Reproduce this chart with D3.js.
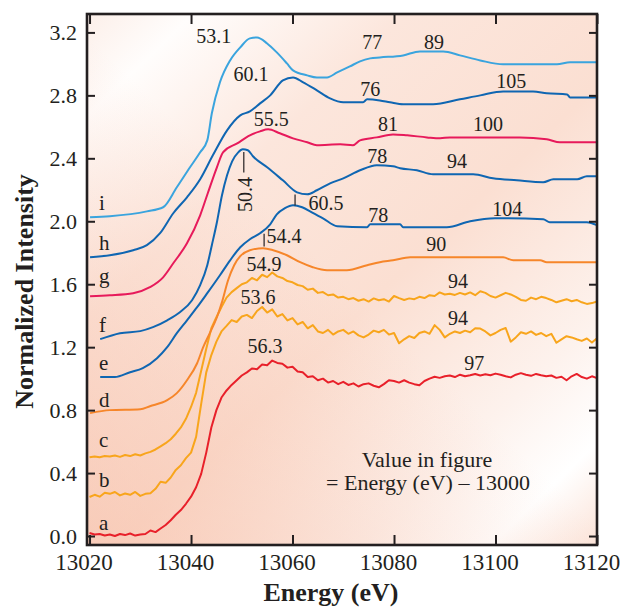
<!DOCTYPE html>
<html>
<head>
<meta charset="utf-8">
<script src="https://cdn.jsdelivr.net/npm/d3@7"></script>
<style>
  body { margin: 0; background: #fff; }
  text { font-family: "Liberation Serif", "Times New Roman", serif; fill: #231f20; }
</style>
</head>
<body>
<div id="chart"></div>
<script>
// energies (eV) for the noisy spectra a, b, c, read every 1 eV
const gridE = d3.range(13020, 13121);

const aI = [
  0.019, 0.010, 0.013, 0.003, 0.010, 0.000, 0.013, 0.006, 0.016, 0.003,
  0.010, 0.013, 0.035, 0.025, 0.048, 0.070, 0.100, 0.135, 0.165, 0.205,
  0.250, 0.310, 0.395, 0.530, 0.690, 0.800, 0.880, 0.925, 0.960, 0.990,
  1.020, 1.040, 1.065, 1.060, 1.090, 1.085, 1.115, 1.100, 1.095, 1.070,
  1.075, 1.045, 1.040, 1.010, 1.015, 0.990, 1.000, 0.975, 0.985, 0.965,
  0.980, 0.960, 0.970, 0.950, 0.965, 0.970, 0.955, 0.945, 0.965, 0.990,
  0.985, 0.975, 0.990, 0.975, 0.965, 0.958, 0.985, 1.000, 1.012, 1.005,
  1.015, 1.020, 1.010, 1.025, 1.015, 1.022, 1.030, 1.020, 1.028, 1.022,
  1.032, 1.025, 1.015, 1.008, 1.025, 1.035, 1.025, 1.018, 1.030, 1.022,
  1.015, 1.020, 1.005, 1.012, 0.990, 1.015, 1.030, 1.010, 1.000, 1.015,
  1.003];

const bI = [
  0.248, 0.262, 0.250, 0.275, 0.268, 0.280, 0.258, 0.270, 0.262, 0.280,
  0.255, 0.268, 0.272, 0.300, 0.345, 0.338, 0.372, 0.420, 0.450, 0.495,
  0.530, 0.630, 0.840, 1.040, 1.150, 1.235, 1.300, 1.335, 1.372, 1.360,
  1.395, 1.405, 1.385, 1.430, 1.455, 1.420, 1.440, 1.395, 1.410, 1.370,
  1.385, 1.345, 1.360, 1.320, 1.340, 1.300, 1.290, 1.310, 1.280, 1.300,
  1.310, 1.285, 1.300, 1.275, 1.262, 1.280, 1.305, 1.295, 1.310, 1.280,
  1.290, 1.225, 1.250, 1.270, 1.258, 1.290, 1.300, 1.285, 1.340, 1.310,
  1.262, 1.285, 1.300, 1.290, 1.305, 1.295, 1.320, 1.318, 1.300, 1.275,
  1.290, 1.310, 1.322, 1.235, 1.262, 1.295, 1.285, 1.300, 1.278, 1.290,
  1.270, 1.285, 1.228, 1.250, 1.270, 1.262, 1.250, 1.240, 1.255, 1.230,
  1.257];

const cI = [
  0.500, 0.505, 0.500, 0.508, 0.505, 0.512, 0.503, 0.515, 0.508, 0.520,
  0.512, 0.525, 0.535, 0.550, 0.570, 0.590, 0.615, 0.650, 0.690, 0.745,
  0.820, 0.910, 1.050, 1.190, 1.320, 1.390, 1.455, 1.515, 1.550, 1.575,
  1.600, 1.612, 1.640, 1.625, 1.660, 1.645, 1.675, 1.650, 1.640, 1.620,
  1.612, 1.595, 1.588, 1.565, 1.572, 1.545, 1.550, 1.530, 1.535, 1.515,
  1.520, 1.505, 1.512, 1.495, 1.505, 1.490, 1.510, 1.498, 1.505, 1.490,
  1.525, 1.512, 1.500, 1.510, 1.505, 1.520, 1.512, 1.530, 1.525, 1.548,
  1.535, 1.540, 1.532, 1.545, 1.535, 1.548, 1.530, 1.555, 1.545, 1.525,
  1.515, 1.530, 1.545, 1.535, 1.520, 1.500, 1.495, 1.515, 1.505, 1.520,
  1.512, 1.500, 1.485, 1.495, 1.505, 1.492, 1.500, 1.485, 1.475, 1.480,
  1.490];

// smoother spectra d..i as [energy, intensity]
const dPts = [[13020.1,0.781],[13024.0,0.800],[13030.0,0.806],[13031.9,0.825],[13035.3,0.863],[13037.2,0.908],
  [13039.2,0.990],[13041.2,1.098],[13042.4,1.200],[13043.7,1.289],[13045.1,1.390],[13046.1,1.486],[13047.3,1.625],
  [13048.5,1.721],[13049.7,1.778],[13051.6,1.816],[13054.2,1.829],[13056.2,1.816],[13058.9,1.784],[13061.5,1.740],
  [13064.0,1.708],[13066.8,1.689],[13070.7,1.689],[13074.7,1.721],[13077.2,1.740],[13079.8,1.752],[13083.2,1.771],
  [13101.5,1.771],[13103.5,1.752],[13108.8,1.752],[13110.1,1.740],[13120,1.740]];

const ePts = [[13022.1,1.010],[13025.0,1.010],[13028.0,1.041],[13030.5,1.067],[13033.3,1.130],[13035.3,1.200],
  [13037.2,1.289],[13039.2,1.371],[13041.2,1.454],[13043.2,1.543],[13045.7,1.657],[13047.7,1.752],[13049.7,1.835],
  [13051.6,1.886],[13053.6,1.924],[13055.6,1.981],[13056.9,2.044],[13058.5,2.083],[13060.1,2.102],[13061.9,2.089],
  [13063.8,2.057],[13066.0,2.019],[13068.8,1.968],[13074.7,1.962],[13075.3,1.981],[13081.2,1.981],[13081.8,1.962],
  [13090.4,1.962],[13095.0,2.000],[13099.9,2.019],[13109.4,2.013],[13110.7,1.994],[13118.0,1.994],[13120,1.975]];

const fPts = [[13022.1,1.251],[13026.0,1.289],[13030.0,1.302],[13032.5,1.327],[13035.3,1.371],[13037.8,1.422],
  [13040.2,1.498],[13041.8,1.594],[13043.2,1.721],[13044.1,1.848],[13045.1,1.994],[13046.1,2.165],[13047.1,2.292],
  [13048.1,2.381],[13049.3,2.438],[13050.2,2.457],[13051.2,2.451],[13052.2,2.413],[13055.0,2.343],[13058.1,2.260],
  [13060.9,2.184],[13062.9,2.171],[13064.8,2.197],[13067.4,2.241],[13070.0,2.273],[13073.3,2.324],[13076.6,2.356],
  [13079.8,2.349],[13081.2,2.337],[13084.5,2.324],[13087.7,2.298],[13095.6,2.298],[13099.5,2.273],[13104.2,2.260],
  [13109.4,2.248],[13111.4,2.267],[13116.1,2.267],[13118.0,2.286],[13120,2.286]];

const gPts = [[13020.1,1.524],[13024.0,1.530],[13028.6,1.543],[13031.9,1.581],[13034.5,1.644],[13036.5,1.733],
  [13039.2,1.860],[13041.8,2.038],[13043.3,2.178],[13045.1,2.343],[13046.3,2.438],[13049.1,2.495],[13051.6,2.546],
  [13053.6,2.571],[13055.2,2.584],[13057.5,2.559],[13060.1,2.527],[13062.9,2.502],[13064.8,2.483],[13069.4,2.489],
  [13071.9,2.483],[13073.3,2.514],[13076.6,2.533],[13079.8,2.552],[13082.6,2.546],[13086.5,2.533],[13089.1,2.527],
  [13091.0,2.533],[13104.8,2.533],[13110.1,2.521],[13112.7,2.502],[13120,2.502]];

const hPts = [[13020.1,1.771],[13024.0,1.784],[13028.6,1.816],[13031.3,1.848],[13033.9,1.924],[13036.5,2.051],
  [13039.2,2.152],[13041.8,2.267],[13044.3,2.419],[13047.1,2.578],[13049.7,2.673],[13051.6,2.698],[13053.6,2.749],
  [13055.6,2.800],[13058.1,2.895],[13060.1,2.914],[13062.1,2.883],[13064.8,2.832],[13067.4,2.781],[13070.0,2.756],
  [13073.9,2.756],[13074.7,2.775],[13077.2,2.768],[13079.2,2.756],[13081.8,2.743],[13087.7,2.743],[13093.0,2.775],
  [13097.0,2.800],[13101.5,2.825],[13107.4,2.825],[13110.1,2.813],[13114.1,2.806],[13114.7,2.787],[13120,2.787]];

const iPts = [[13020.1,2.025],[13024.0,2.032],[13031.3,2.063],[13034.5,2.089],[13037.2,2.216],[13039.8,2.343],
  [13041.8,2.438],[13043.2,2.514],[13044.1,2.686],[13045.7,2.883],[13047.7,3.022],[13049.7,3.105],[13051.6,3.162],
  [13053.0,3.168],[13055.0,3.130],[13056.9,3.073],[13058.9,3.003],[13060.1,2.959],[13062.9,2.927],[13064.8,2.914],
  [13066.8,2.914],[13068.8,2.946],[13071.3,2.984],[13073.3,3.016],[13075.3,3.035],[13077.2,3.041],[13081.8,3.054],
  [13085.1,3.079],[13089.7,3.079],[13093.0,3.054],[13097.0,3.022],[13101.5,2.997],[13112.1,2.997],[13114.7,3.010],
  [13120,3.010]];

const seriesNames = ["a", "b", "c", "d", "e", "f", "g", "h", "i"];
const seriesColors = ["#e8202a", "#f8a51c", "#f8a51c", "#f6862a", "#0f66b2", "#0f66b2", "#e71a5b", "#0f66b2", "#3aa4de"];
// intensity at which each letter sits, left of its curve
const letterLevels = [0.038, 0.311, 0.565, 0.819, 1.054, 1.295, 1.606, 1.816, 2.070];

// peak / feature labels: [text, energy, intensity]
const peakLabels = [
  ["53.1", 13044.5, 3.130], ["77", 13075.7, 3.092], ["89", 13087.9, 3.092],
  ["60.1", 13051.8, 2.889], ["76", 13075.3, 2.794], ["105", 13103.1, 2.844],
  ["55.5", 13055.8, 2.603], ["81", 13078.8, 2.571], ["100", 13098.5, 2.571],
  ["78", 13076.7, 2.368], ["94", 13092.4, 2.337],
  ["60.5", 13066.6, 2.070], ["78", 13076.9, 1.994], ["104", 13102.3, 2.032],
  ["54.4", 13058.3, 1.860], ["90", 13088.3, 1.810],
  ["54.9", 13054.4, 1.683], ["94", 13092.6, 1.575],
  ["53.6", 13053.2, 1.473], ["94", 13092.6, 1.340],
  ["56.3", 13054.6, 1.162], ["97", 13095.8, 1.054]
];

const width = 621, height = 609;
const margin = {top: 14, right: 24, bottom: 64, left: 87};
const serif = '"Liberation Serif", "Times New Roman", serif';

const x = d3.scaleLinear().domain([13019.5, 13120]).range([margin.left, width - margin.right]);
const y = d3.scaleLinear().domain([-0.057, 3.317]).range([height - margin.bottom, margin.top]);

const svg = d3.select("#chart").append("svg")
  .attr("width", width)
  .attr("height", height);

const defs = svg.append("defs");
const bg = defs.append("linearGradient")
  .attr("id", "bg")
  .attr("gradientUnits", "userSpaceOnUse")
  .attr("x1", x.range()[0]).attr("y1", y.range()[1])
  .attr("x2", x.range()[1]).attr("y2", y.range()[0]);
[[0, "#fcefe9"], [0.1, "#fffdfc"], [0.3, "#fce6dc"], [0.55, "#fbdfd2"], [0.78, "#fdf2ed"],
 [0.9, "#ffffff"], [1, "#fbe3d8"]].forEach(s => bg.append("stop").attr("offset", s[0]).attr("stop-color", s[1]));

const warm = defs.append("linearGradient")
  .attr("id", "warm")
  .attr("gradientUnits", "userSpaceOnUse")
  .attr("x1", x.range()[0]).attr("y1", y.range()[0])
  .attr("x2", x.range()[1]).attr("y2", y.range()[1]);
warm.append("stop").attr("offset", 0).attr("stop-color", "#f6bba3").attr("stop-opacity", 0.55);
warm.append("stop").attr("offset", 0.5).attr("stop-color", "#f6bba3").attr("stop-opacity", 0);

const plotW = x.range()[1] - x.range()[0], plotH = y.range()[0] - y.range()[1];
svg.append("rect").attr("x", margin.left).attr("y", margin.top).attr("width", plotW).attr("height", plotH).attr("fill", "url(#bg)");
svg.append("rect").attr("x", margin.left).attr("y", margin.top).attr("width", plotW).attr("height", plotH).attr("fill", "url(#warm)");

const series = [
  gridE.map((e, k) => [e, aI[k]]),
  gridE.map((e, k) => [e, bI[k]]),
  gridE.map((e, k) => [e, cI[k]]),
  dPts, ePts, fPts, gPts, hPts, iPts
];

const roughLine = d3.line().x(d => x(d[0])).y(d => y(d[1]));
const smoothLine = d3.line().x(d => x(d[0])).y(d => y(d[1])).curve(d3.curveMonotoneX);

svg.append("g")
  .attr("fill", "none")
  .attr("stroke-width", 2)
  .attr("stroke-linejoin", "round")
  .selectAll("path")
  .data(series)
  .join("path")
  .attr("stroke", (d, k) => seriesColors[k])
  .attr("d", (d, k) => k < 3 ? roughLine(d) : smoothLine(d));

// curve letters above each start
svg.append("g")
  .selectAll("text")
  .data(seriesNames)
  .join("text")
  .attr("x", 99)
  .attr("y", (d, k) => y(letterLevels[k]))
  .style("font-size", "21px")
  .text(d => d);

// numbers marking peaks and features
svg.append("g")
  .selectAll("text")
  .data(peakLabels)
  .join("text")
  .attr("x", d => x(d[1]))
  .attr("y", d => y(d[2]))
  .attr("text-anchor", "middle")
  .style("font-size", "20px")
  .text(d => d[0]);

// rotated 50.4 with its marker line, plus small markers at 60.5 and 54.4
svg.append("text")
  .attr("transform", `translate(${x(13050.4) + 8},${y(2.17)}) rotate(-90)`)
  .attr("text-anchor", "middle")
  .style("font-size", "20px")
  .text("50.4");
const marks = [[13050.4, 2.44, 2.31], [13060.5, 2.17, 2.10], [13054.4, 1.92, 1.84]];
svg.append("g")
  .attr("stroke", "#231f20")
  .attr("stroke-width", 1.2)
  .selectAll("line")
  .data(marks)
  .join("line")
  .attr("x1", d => x(d[0])).attr("x2", d => x(d[0]))
  .attr("y1", d => y(d[1])).attr("y2", d => y(d[2]));

svg.append("text")
  .attr("x", x(13086.5)).attr("y", y(0.44))
  .attr("text-anchor", "middle")
  .style("font-size", "22px")
  .text("Value in figure");
svg.append("text")
  .attr("x", x(13086.7)).attr("y", y(0.29))
  .attr("text-anchor", "middle")
  .style("font-size", "22px")
  .text("= Energy (eV) \u2013 13000");

// axes: ticks point inward on all four sides
const xTicks = [13020, 13040, 13060, 13080, 13100, 13120];
const yTicks = [0, 0.4, 0.8, 1.2, 1.6, 2.0, 2.4, 2.8, 3.2];

const styleAxis = g => {
  g.select(".domain").remove();
  g.selectAll("line").attr("stroke", "#231f20").attr("stroke-width", 2);
  g.selectAll("text")
    .style("font-family", serif)
    .style("font-size", "22px")
    .style("fill", "#231f20");
};

svg.append("g")
  .attr("transform", `translate(0,${y.range()[0]})`)
  .call(d3.axisBottom(x).tickValues(xTicks).tickSize(-10).tickPadding(9).tickFormat(d3.format("d")))
  .call(styleAxis)
  .call(g => g.selectAll("text").attr("dx", -6).style("font-size", "23px"));
svg.append("g")
  .attr("transform", `translate(0,${y.range()[1]})`)
  .call(d3.axisTop(x).tickValues(xTicks).tickSize(-10).tickFormat(""))
  .call(styleAxis);
svg.append("g")
  .attr("transform", `translate(${x.range()[0]},0)`)
  .call(d3.axisLeft(y).tickValues(yTicks).tickSize(-8).tickPadding(10).tickFormat(d3.format(".1f")))
  .call(styleAxis);
svg.append("g")
  .attr("transform", `translate(${x.range()[1]},0)`)
  .call(d3.axisRight(y).tickValues(yTicks).tickSize(-8).tickFormat(""))
  .call(styleAxis);

svg.append("rect")
  .attr("x", margin.left).attr("y", margin.top)
  .attr("width", plotW).attr("height", plotH)
  .attr("fill", "none")
  .attr("stroke", "#231f20")
  .attr("stroke-width", 2.6);

svg.append("text")
  .attr("x", (x.range()[0] + x.range()[1]) / 2 - 11)
  .attr("y", 601)
  .attr("text-anchor", "middle")
  .style("font-size", "26px")
  .style("font-weight", "bold")
  .text("Energy (eV)");
svg.append("text")
  .attr("transform", `translate(33,${(y.range()[0] + y.range()[1]) / 2 + 12}) rotate(-90)`)
  .attr("text-anchor", "middle")
  .style("font-size", "26px")
  .style("font-weight", "bold")
  .text("Normalized Intensity");
</script>
</body>
</html>
